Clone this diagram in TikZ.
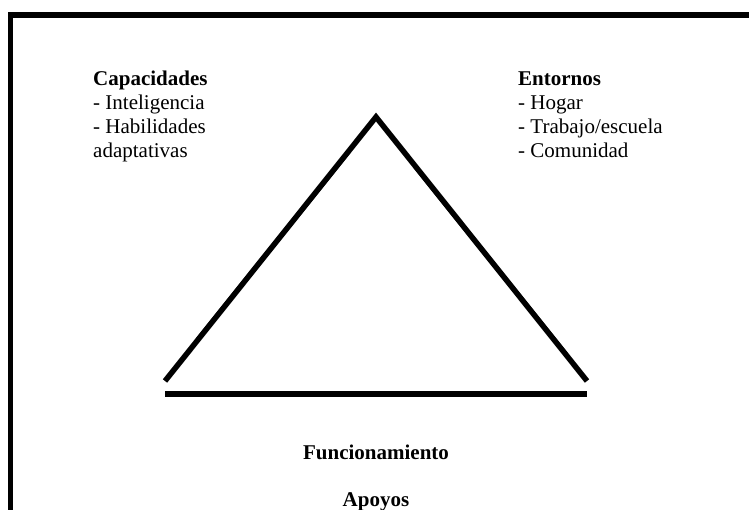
\documentclass[tikz,border=0pt]{standalone}
\usepackage{fontspec}
\setmainfont{Liberation Serif}
\begin{document}
\begin{tikzpicture}[x=1pt,y=-1pt,
  lbl/.style={inner sep=0pt,align=left,font=\fontsize{21}{24}\selectfont},
  ttl/.style={inner sep=0pt,font=\fontsize{21}{24}\selectfont\bfseries},
  side/.style={line width=5.5pt,line join=miter,line cap=butt}]
\useasboundingbox (0,0) rectangle (749,510);
% frame
\fill[black] (8,12) rectangle (749,18);
\fill[black] (8,12) rectangle (13,510);
% triangle
\coordinate (apex) at (376,117);
\coordinate (bl) at (165,381);
\coordinate (br) at (587,381);
\coordinate (basel) at (165,394);
\coordinate (baser) at (587,394);
\draw[side] (bl) -- (apex) -- (br);
\draw[side] (basel) -- (baser);
% texts
\node[lbl,anchor=base west] (cap) at (93,158) {\textbf{Capacidades}\\- Inteligencia\\- Habilidades\\adaptativas};
\node[lbl,anchor=base west] (ent) at (518,158) {\textbf{Entornos}\\- Hogar\\- Trabajo/escuela\\- Comunidad};
\node[ttl,anchor=base] (fun) at (376,459) {Funcionamiento};
\node[ttl,anchor=base] (apo) at (376,506) {Apoyos};
\end{tikzpicture}
\end{document}
